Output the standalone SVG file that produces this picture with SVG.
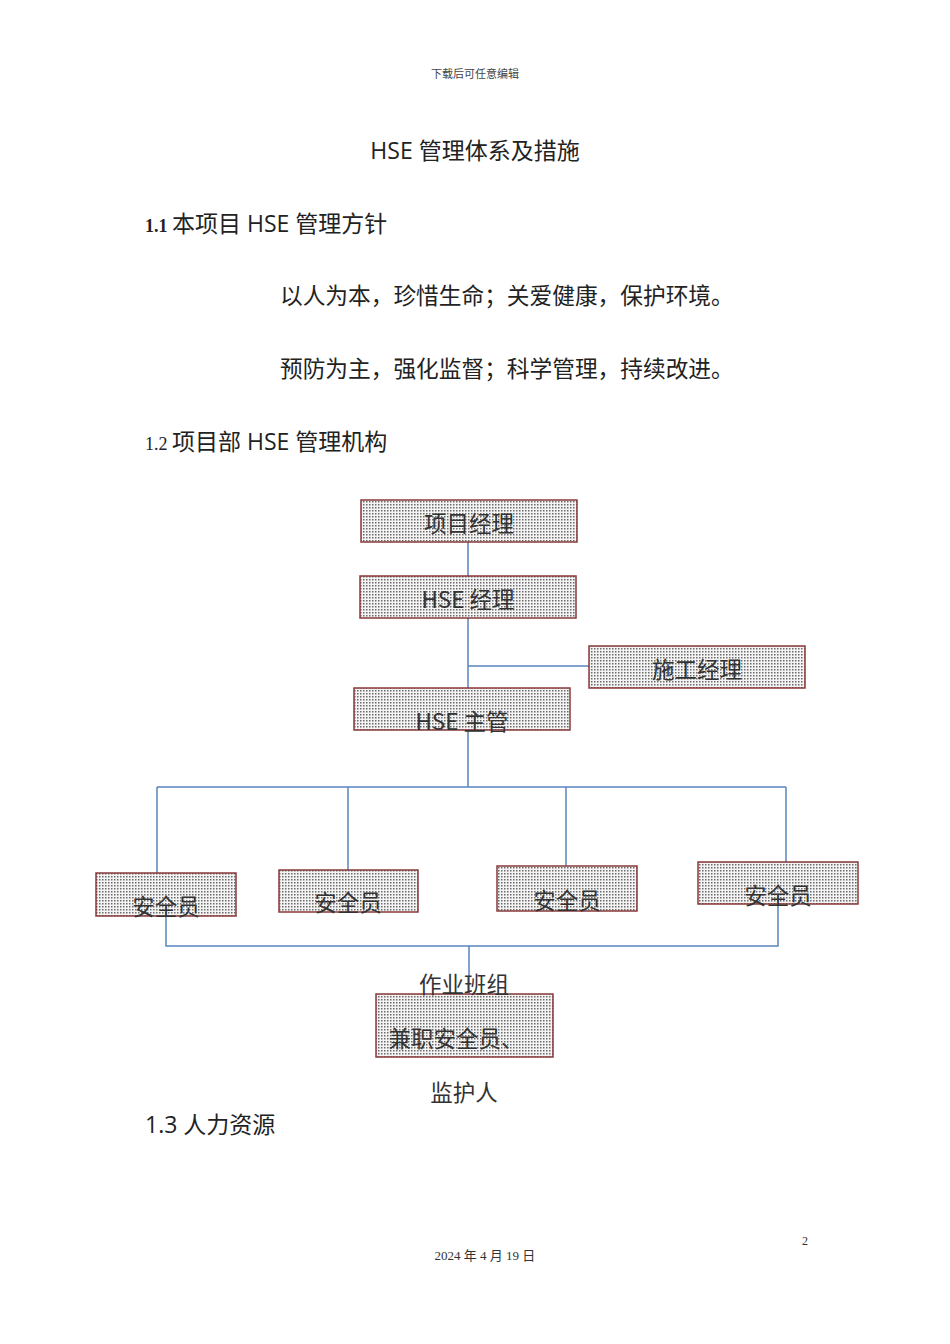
<svg xmlns="http://www.w3.org/2000/svg" width="950" height="1344" viewBox="0 0 950 1344">
<defs>
<pattern id="dots" width="3" height="3" patternUnits="userSpaceOnUse">
<rect width="3" height="3" fill="#f4f4f4"/>
<rect x="0" y="0" width="1.5" height="1.5" fill="#6a6a6a"/>
</pattern>
</defs>
<style>
.b{fill:url(#dots);stroke:#8b3a3a;stroke-width:1.5}
.t{font-family:"Open Sans","Noto Sans CJK SC",sans-serif;fill:#222}
.n{font-family:"Noto Sans CJK SC",sans-serif;font-size:22.5px;fill:#333;text-anchor:middle}
.c{stroke:#5b85c0;stroke-width:1.5;fill:none}
</style>
<rect width="950" height="1344" fill="#fff"/>
<text x="475" y="78" font-family="Noto Sans CJK SC,serif" font-size="11" text-anchor="middle" fill="#444">下载后可任意编辑</text>
<text x="475" y="159" class="t" font-size="23" text-anchor="middle">HSE 管理体系及措施</text>
<text x="145" y="232" class="t" font-size="23"><tspan font-family="Liberation Serif" font-weight="bold" font-size="18">1.1 </tspan>本项目 HSE 管理方针</text>
<text x="280" y="304" class="t" font-size="22.7">以人为本，珍惜生命；关爱健康，保护环境。</text>
<text x="280" y="377" class="t" font-size="22.7">预防为主，强化监督；科学管理，持续改进。</text>
<text x="145" y="450" class="t" font-size="23"><tspan font-family="Liberation Serif" font-size="18">1.2 </tspan>项目部 HSE 管理机构</text>
<g id="connectors">
<path class="c" d="M468 542V576M468 618V787M468 666H589M157 787H786M157 787V873M348 787V870M566 787V866M786 787V862M166 916V946H778V904M469 946V994"/>
</g>
<g id="n1"><rect class="b" x="361" y="500" width="216" height="42"/><text class="n" x="469" y="532">项目经理</text></g>
<g id="n2"><rect class="b" x="360" y="576" width="216" height="42"/><text class="n" x="468" y="608">HSE 经理</text></g>
<g id="n3"><rect class="b" x="589" y="646" width="216" height="42"/><text class="n" x="697" y="678">施工经理</text></g>
<g id="n4"><rect class="b" x="354" y="688" width="216" height="42"/><text class="n" x="462" y="730">HSE 主管</text></g>
<g id="n5"><rect class="b" x="96" y="873" width="140" height="43"/><text class="n" x="166" y="915">安全员</text></g>
<g id="n6"><rect class="b" x="279" y="870" width="139" height="42"/><text class="n" x="348" y="911">安全员</text></g>
<g id="n7"><rect class="b" x="497" y="866" width="140" height="45"/><text class="n" x="567" y="909">安全员</text></g>
<g id="n8"><rect class="b" x="698" y="862" width="160" height="42"/><text class="n" x="778" y="904">安全员</text></g>
<g id="n9"><rect class="b" x="376" y="994" width="177" height="63"/><text class="n" x="464" y="993">作业班组</text><text class="n" x="456" y="1047">兼职安全员、</text><text class="n" x="464" y="1101">监护人</text></g>
<text x="145" y="1133" class="t" font-size="23">1.3 人力资源</text>
<text x="802" y="1245" font-family="Liberation Serif" font-size="12" fill="#333">2</text>
<text x="485" y="1260" font-family="Liberation Serif,Noto Sans CJK SC,serif" font-size="13" text-anchor="middle" fill="#333">2024 年 4 月 19 日</text>
</svg>
